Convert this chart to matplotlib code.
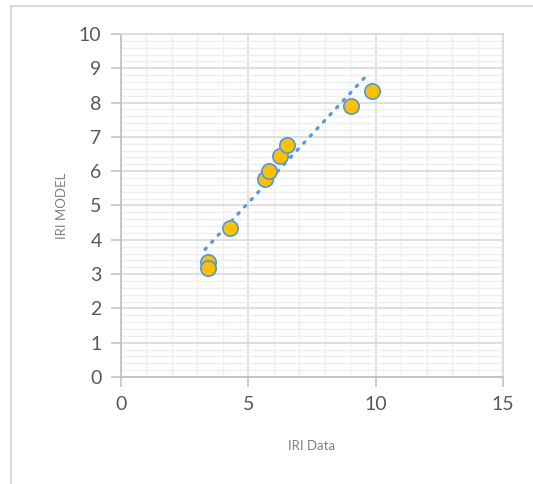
import matplotlib.pyplot as plt
from matplotlib.patches import Rectangle
from matplotlib.ticker import MultipleLocator

# IRI measured vs. IRI predicted by the model
iri_data = [3.43, 3.43, 4.28, 5.65, 5.82, 6.24, 6.50, 9.02, 9.84]
iri_model = [3.36, 3.19, 4.34, 5.77, 6.01, 6.44, 6.76, 7.90, 8.34]

# dotted trend line (start / end)
trend_x = [3.30, 9.58]
trend_y = [3.72, 8.74]

x_ticks = [0, 5, 10, 15]
y_ticks = list(range(0, 11))

plt.rcParams['font.family'] = ['Lato', 'DejaVu Sans']

fig = plt.figure(figsize=(5.33, 4.84), dpi=100)
ax = fig.add_axes([121 / 533, 1 - 377 / 484, 382 / 533, 343 / 484])

# outer chart frame
fig.patches.append(Rectangle((11 / 533, -0.1), 1.2, 1 - 6 / 484 + 0.1,
                             transform=fig.transFigure, fill=False,
                             edgecolor='#d9d9d9', linewidth=1.5))

ax.set_xlim(0, 15)
ax.set_ylim(0, 10)
ax.set_xticks(x_ticks)
ax.set_yticks(y_ticks)
ax.xaxis.set_minor_locator(MultipleLocator(1))
ax.yaxis.set_minor_locator(MultipleLocator(0.2))

ax.grid(which='major', color='#d9d9d9', linewidth=1.2, zorder=0)
ax.grid(which='minor', color='#efefef', linewidth=1.0, zorder=0)
ax.set_axisbelow(True)

for side in ['top', 'right']:
    ax.spines[side].set_color('#d9d9d9')
    ax.spines[side].set_linewidth(1.2)
for side in ['left', 'bottom']:
    ax.spines[side].set_color('#bfbfbf')
    ax.spines[side].set_linewidth(1.2)

ax.tick_params(which='major', direction='out', length=7, width=1.1,
               color='#bfbfbf', labelcolor='#595959', labelsize=14, pad=7)
ax.tick_params(which='minor', length=0)

ax.plot(trend_x, trend_y, linestyle=(0, (0.5, 2.4)), color='#5b9bd5',
        linewidth=2.4, dash_capstyle='round', zorder=3)
ax.plot(iri_data, iri_model, linestyle='none', marker='o', markersize=11,
        markerfacecolor='#ffc000', markeredgecolor='#5b9bd5',
        markeredgewidth=1.3, zorder=4)

ax.set_xlabel('IRI Data', color='#808080', fontsize=9.5, labelpad=19)
ax.set_ylabel('IRI MODEL', color='#808080', fontsize=9.5, labelpad=8)

fig.savefig('out.png', dpi=100)
